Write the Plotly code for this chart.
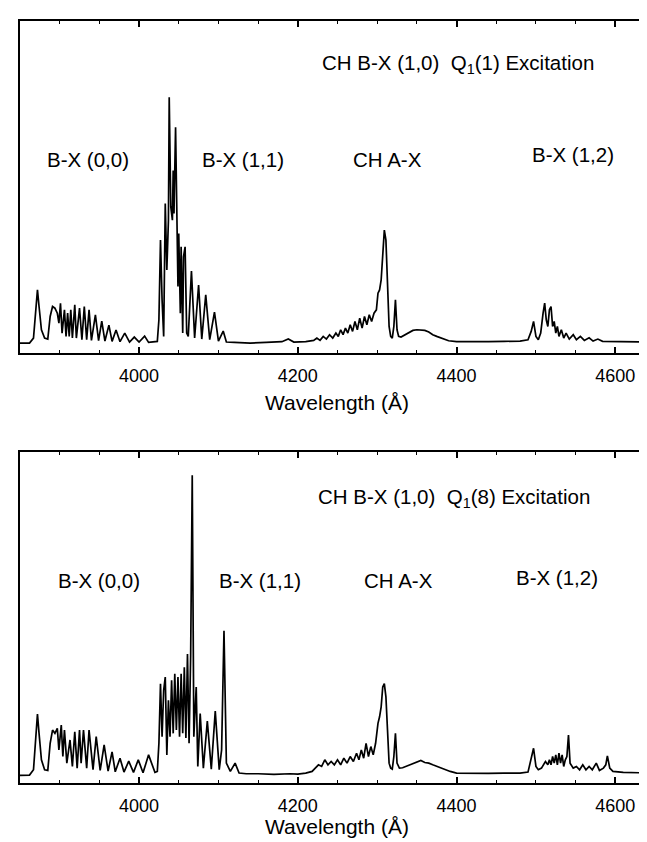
import plotly.graph_objects as go

# ---------------- Top panel: Q1(1) excitation ----------------
wl_q1_bx00 = [3850, 3862, 3867, 3870, 3872, 3874, 3877, 3881, 3885, 3888, 3891, 3894, 3897, 3899,
              3901, 3903, 3906, 3908, 3910, 3912, 3914, 3916, 3919, 3921, 3925, 3928, 3931, 3934,
              3937, 3940, 3945, 3949, 3953, 3957, 3962, 3966, 3971, 3976, 3982, 3988, 3994, 4000,
              4007, 4012, 4020]
in_q1_bx00 = [3, 3, 4.5, 12, 19, 14, 7, 4.5, 4.2, 11, 14, 13.5, 12, 9,
              15, 6, 13, 5, 12, 5, 13, 4.5, 14.5, 4.5, 13.5, 4, 14, 4,
              13, 3.8, 11.5, 3.7, 9.6, 3.6, 8.4, 3.5, 6.9, 3.4, 6, 3.3, 4.8, 3.3,
              5.1, 3.2, 3.3]

wl_q1_bx11 = [4023, 4025, 4027, 4029, 4031, 4033, 4035, 4037, 4038, 4040, 4042, 4043, 4044, 4046,
              4048, 4049, 4050, 4052, 4053, 4055, 4056, 4058, 4060, 4062, 4066, 4070, 4075, 4079,
              4084, 4089, 4095, 4100, 4106, 4110, 4120]
in_q1_bx11 = [3.5, 10, 34, 16, 5, 45, 25, 40, 77, 44, 40, 55, 42, 68,
              35, 20, 36, 12, 32, 6, 29, 32, 6, 5, 24.7, 4.5, 20.5, 4.2,
              17.5, 4, 12.3, 3.6, 6.6, 3.3, 3.2]

wl_q1_mid = [4140, 4160, 4180, 4188, 4195, 4210, 4220]
in_q1_mid = [3, 3.2, 3.4, 4.2, 3.3, 3.4, 3.8]

wl_q1_ax = [4224, 4228, 4232, 4236, 4240, 4244, 4248, 4251, 4254, 4257, 4260, 4263, 4266, 4269,
            4272, 4275, 4278, 4281, 4284, 4287, 4290, 4293, 4296, 4299, 4301, 4303, 4305, 4307,
            4309, 4311, 4313, 4315, 4317, 4319, 4321, 4323, 4325, 4327, 4330, 4335, 4340, 4345,
            4350, 4355, 4360, 4365, 4370, 4375, 4380, 4385, 4390, 4400, 4420]
in_q1_ax = [4.5, 3.8, 5, 4.2, 5.5, 4.5, 6, 5, 7, 5.5, 7.5, 6, 8.5, 6.5,
            9.5, 7, 10.5, 7.5, 11, 8.5, 11.5, 9.5, 12, 13, 18, 19, 22, 30,
            37, 34, 21, 8, 5, 4.5, 8, 16, 7, 5, 4.8, 5.5, 6, 6.8,
            7, 7, 6.8, 6.3, 5.5, 5, 4.5, 4, 3.7, 3.4, 3.3]

wl_q1_bx12 = [4440, 4460, 4480, 4490, 4494, 4497, 4500, 4503, 4506, 4509, 4511, 4513, 4515, 4517,
              4519, 4521, 4523, 4525, 4527, 4529, 4532, 4535, 4538, 4542, 4547, 4551, 4556, 4561,
              4567, 4572, 4578, 4584, 4600, 4620, 4650]
in_q1_bx12 = [3.4, 3.5, 3.6, 4, 6.5, 9.5, 5, 4, 6, 12, 15, 10, 8, 13,
              14, 8, 9.5, 6, 8, 5, 7, 4.5, 6, 4.2, 5.5, 4, 5, 3.8,
              4.6, 3.6, 4.2, 3.5, 3.4, 3.3, 3.3]

# ---------------- Bottom panel: Q1(8) excitation ----------------
wl_q8_bx00 = [3850, 3862, 3867, 3870, 3872, 3874, 3877, 3881, 3885, 3888, 3891, 3894, 3897, 3899,
              3902, 3904, 3906, 3909, 3913, 3916, 3919, 3922, 3925, 3927, 3930, 3934, 3937, 3942,
              3946, 3951, 3956, 3961, 3966, 3970, 3976, 3981, 3987, 3993, 3999, 4005, 4012, 4020]
in_q8_bx00 = [2.3, 2.4, 4, 13, 20.8, 15, 7, 4, 3.8, 12, 16, 15, 16.5, 10,
              17.5, 8, 16, 6, 13, 5, 15.5, 4.5, 16, 6, 16, 4.5, 16, 4,
              14, 3.8, 11.5, 3.6, 9.4, 3.4, 7.5, 3.3, 6.6, 3.2, 7, 3.1, 8.5, 3.2]

wl_q8_bx11 = [4023, 4025, 4027, 4029, 4031, 4033, 4035, 4037, 4039, 4041, 4043, 4045, 4047, 4049,
              4051, 4053, 4055, 4057, 4059, 4061, 4063, 4065, 4067, 4069, 4072, 4074, 4077, 4081,
              4086, 4091, 4096, 4101, 4104, 4107, 4110, 4115, 4121, 4126, 4135]
in_q8_bx11 = [3.5, 12, 30, 14, 28, 32, 8.5, 25, 14, 31, 15, 33, 16, 32,
              14, 33, 15, 35, 13.6, 39, 12, 38.6, 93, 14, 29, 5, 21, 4.5,
              18.7, 4.2, 21.7, 4, 10, 46, 6, 3.5, 6, 3, 2.8]

wl_q8_mid = [4150, 4170, 4190, 4200, 4210, 4218]
in_q8_mid = [2.8, 2.6, 2.8, 2.7, 3, 3.5]

wl_q8_ax = [4222, 4226, 4230, 4234, 4238, 4242, 4246, 4250, 4254, 4258, 4262, 4266, 4270, 4274,
            4277, 4280, 4283, 4286, 4289, 4292, 4295, 4298, 4301, 4303, 4305, 4307, 4309, 4311,
            4313, 4315, 4317, 4319, 4321, 4323, 4325, 4328, 4332, 4338, 4344, 4350, 4355, 4360,
            4365, 4370, 4375, 4380, 4385, 4392, 4400, 4420]
in_q8_ax = [4.5, 5.5, 5, 7, 5.5, 6.5, 5.5, 7, 5.5, 7.5, 6, 8, 6.5, 9,
            7, 10, 7.5, 12, 8, 11, 8.5, 12, 18, 20, 23, 29, 30, 26,
            16, 6, 4.5, 4.2, 8, 15, 6, 4.5, 4.6, 5.2, 5.8, 6.5, 6.8, 6.2,
            6, 5.5, 5, 4.5, 4, 3.5, 3, 2.9]

wl_q8_bx12 = [4440, 4460, 4480, 4490, 4494, 4497, 4500, 4503, 4507, 4512, 4515, 4517, 4519, 4521,
              4523, 4525, 4527, 4529, 4531, 4533, 4535, 4537, 4539, 4541, 4543, 4547, 4551, 4555,
              4559, 4563, 4567, 4571, 4576, 4580, 4585, 4588, 4590, 4593, 4597, 4610, 4630, 4650]
in_q8_bx12 = [2.9, 3, 3, 3.3, 7, 10.5, 5, 4, 4.5, 6.5, 5.5, 7, 5.5, 8,
              6, 8.5, 5.5, 9, 6, 8.5, 5, 7, 8, 14.5, 6, 4.5, 5, 4,
              5.5, 4, 5, 4, 6, 3.8, 4.5, 5.5, 8.2, 4.5, 3.5, 3.2, 3.1, 3.1]

# tick labels
tick_vals = [4000, 4200, 4400, 4600]
tick_text = ["4000", "4200", "4400", "4600"]

x_top = wl_q1_bx00 + wl_q1_bx11 + wl_q1_mid + wl_q1_ax + wl_q1_bx12
y_top = in_q1_bx00 + in_q1_bx11 + in_q1_mid + in_q1_ax + in_q1_bx12
x_bot = wl_q8_bx00 + wl_q8_bx11 + wl_q8_mid + wl_q8_ax + wl_q8_bx12
y_bot = in_q8_bx00 + in_q8_bx11 + in_q8_mid + in_q8_ax + in_q8_bx12

W, H = 647, 842
FONT = "Liberation Sans, Arial, Helvetica, sans-serif"


def px(x):
    return x / W


def py(y):
    return 1 - y / H


fig = go.Figure()
fig.add_trace(go.Scatter(x=x_top, y=y_top, mode="lines", line=dict(color="black", width=1.7),
                         xaxis="x", yaxis="y", showlegend=False, hoverinfo="skip"))
fig.add_trace(go.Scatter(x=x_bot, y=y_bot, mode="lines", line=dict(color="black", width=1.7),
                         xaxis="x2", yaxis="y2", showlegend=False, hoverinfo="skip"))

xcommon = dict(range=[3850, 4650], showline=True, linecolor="black", linewidth=2, mirror="ticks",
               ticks="inside", ticklen=6, tickwidth=1.5, tickcolor="black",
               tickvals=tick_vals, ticktext=tick_text, ticklabelstandoff=5,
               minor=dict(dtick=50, tick0=3850, ticks="inside", ticklen=3, tickcolor="black", tickwidth=1),
               showgrid=False, zeroline=False,
               tickfont=dict(family=FONT, size=18, color="black"))
ycommon = dict(range=[0, 100], showline=True, linecolor="black", linewidth=1.5,
               showticklabels=False, ticks="", showgrid=False, zeroline=False)

x_dom = [px(12), 1.0]
fig.update_layout(
    width=W, height=H, margin=dict(l=0, r=0, t=0, b=0),
    paper_bgcolor="white", plot_bgcolor="white",
    xaxis=dict(domain=x_dom, anchor="y", **xcommon),
    yaxis=dict(domain=[py(345), py(13)], anchor="x", **ycommon),
    xaxis2=dict(domain=x_dom, anchor="y2", **xcommon),
    yaxis2=dict(domain=[py(775), py(444)], anchor="x2", **ycommon),
)

ann = []


def add_text(text, x, y, size=20.5):
    ann.append(dict(text=text, x=px(x), y=py(y), xref="paper", yref="paper",
                    showarrow=False, xanchor="center", yanchor="middle",
                    font=dict(family=FONT, size=size, color="black")))


add_text("CH B-X (1,0)&nbsp; Q<sub>1</sub>(1) Excitation", 450, 56)
add_text("B-X (0,0)", 80, 151)
add_text("B-X (1,1)", 235, 151)
add_text("CH A-X", 379, 151)
add_text("B-X (1,2)", 565, 146)
add_text("Wavelength (Å)", 329, 394, 21)

add_text("CH B-X (1,0)&nbsp; Q<sub>1</sub>(8) Excitation", 446, 490)
add_text("B-X (0,0)", 91, 572)
add_text("B-X (1,1)", 252, 572)
add_text("CH A-X", 390, 572)
add_text("B-X (1,2)", 549, 569)
add_text("Wavelength (Å)", 329, 818, 21)

fig.update_layout(annotations=ann)
fig.write_html("out.html")
